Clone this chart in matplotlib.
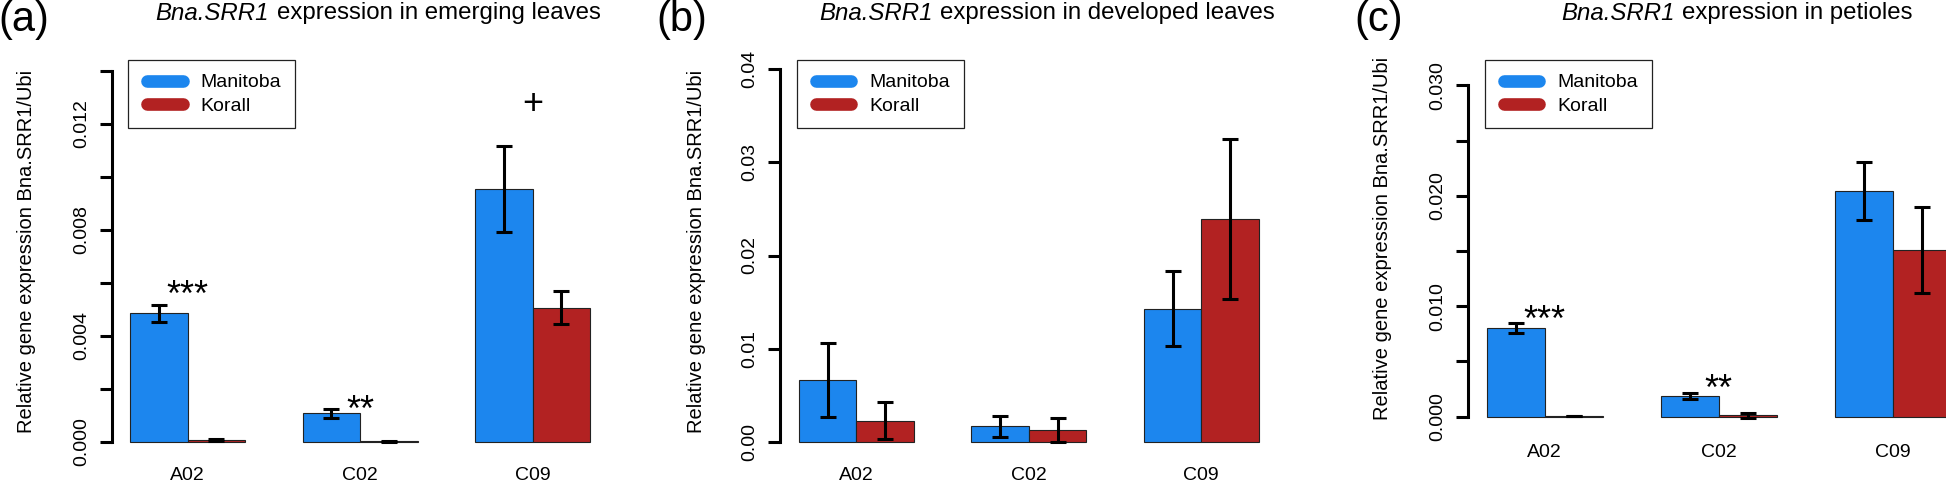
import matplotlib

matplotlib.use("Agg")
import matplotlib.pyplot as plt
from matplotlib.lines import Line2D
from matplotlib.legend_handler import HandlerLine2D
from matplotlib.ticker import FixedLocator, FuncFormatter

# relative expression Bna.SRR1/Ubi, mean and standard error per gene copy
genes = ["A02", "C02", "C09"]
cultivars = ["Manitoba", "Korall"]

emerging_manitoba = [0.00484, 0.00107, 0.00955]
emerging_manitoba_se = [0.00033, 0.00016, 0.00162]
emerging_korall = [0.00006, 0.00001, 0.00506]
emerging_korall_se = [0.000025, 0.000005, 0.00063]

developed_manitoba = [0.00663, 0.00165, 0.0143]
developed_manitoba_se = [0.0040, 0.00115, 0.0040]
developed_korall = [0.00226, 0.00125, 0.0239]
developed_korall_se = [0.0020, 0.0013, 0.0086]

petiole_manitoba = [0.00804, 0.00187, 0.02045]
petiole_manitoba_se = [0.00048, 0.0003, 0.0026]
petiole_korall = [0.00005, 0.00012, 0.01512]
petiole_korall_se = [0.00003, 0.0002, 0.0039]

# significance marks: label, gene index, height
emerging_sig = ["***", "**", "+"]
emerging_sig_gene = [0, 1, 2]
emerging_sig_y = [0.00548, 0.00114, 0.01274]
petiole_sig = ["***", "**"]
petiole_sig_gene = [0, 1]
petiole_sig_y = [0.0086, 0.00239]

gene_name = "Bna.SRR1"
titles = [
    "expression in emerging leaves",
    "expression in developed leaves",
    "expression in petioles",
]
ylabel = "Relative gene expression Bna.SRR1/Ubi"

W, H = 1946, 487
BLUE = "#1C86EE"
RED = "#B22222"

plt.rcParams["font.family"] = ["Liberation Sans", "DejaVu Sans"]

fig = plt.figure(figsize=(W / 100, H / 100), dpi=100)
fig.patch.set_facecolor("white")
renderer = fig.canvas.get_renderer()


def fx(px):
    return px / W


def fy(py):
    return 1 - py / H


def add_title(center_px, rest):
    # italic gene name followed by plain text, centred as one line
    t1 = fig.text(0, fy(19.5), gene_name, style="italic", fontsize=17.3,
                  ha="left", va="baseline")
    t2 = fig.text(0, fy(19.5), rest, fontsize=17.3, ha="left", va="baseline")
    w1 = t1.get_window_extent(renderer).width
    w2 = t2.get_window_extent(renderer).width
    gap = 8
    start = center_px - (w1 + gap + w2) / 2
    t1.set_x(fx(start))
    t2.set_x(fx(start + w1 + gap))


def panel(x1, bw, y0, ytop, ymax, step, label_step, fmt,
          manitoba, manitoba_se, korall, korall_se,
          title, title_x, letter, letter_x, ylab_x, ylab_y, xpad,
          sig=(), sig_gene=(), sig_y=()):
    h = y0 - ytop
    left, right = x1 - 0.32 * bw, x1 + 8.32 * bw
    bottom, top = y0 + 0.04 * h, ytop - 0.04 * h
    ax = fig.add_axes([fx(left), fy(bottom), (right - left) / W, (bottom - top) / H])
    ax.set_xlim(0.68, 9.32)
    ax.set_ylim(-0.04 * ymax, 1.04 * ymax)
    ax.patch.set_alpha(0)

    xm = [3 * i + 1.5 for i in range(len(genes))]
    xk = [3 * i + 2.5 for i in range(len(genes))]
    ax.bar(xm, manitoba, width=1, color=BLUE, edgecolor="#222222", linewidth=0.8)
    ax.bar(xk, korall, width=1, color=RED, edgecolor="#222222", linewidth=0.8)
    ax.errorbar(xm, manitoba, yerr=manitoba_se, fmt="none", ecolor="black",
                elinewidth=2.2, capsize=5.8, capthick=2.2)
    ax.errorbar(xk, korall, yerr=korall_se, fmt="none", ecolor="black",
                elinewidth=2.2, capsize=5.8, capthick=2.2)

    for s, g, y in zip(sig, sig_gene, sig_y):
        ax.text(3 * g + 2, y, s, ha="center", va="center", fontsize=26)

    for side in ["top", "right", "bottom"]:
        ax.spines[side].set_visible(False)
    ax.spines["left"].set_linewidth(2.2)
    ax.spines["left"].set_bounds(0, ymax)

    n = int(round(ymax / step))
    ticks = [i * step for i in range(n + 1)]
    ax.yaxis.set_major_locator(FixedLocator(ticks))
    every = int(round(label_step / step))
    ax.yaxis.set_major_formatter(FuncFormatter(
        lambda v, pos: (fmt % v) if pos is not None and pos % every == 0 else ""))
    ax.tick_params(axis="y", length=8.6, width=2.2, labelsize=14,
                   labelrotation=90, pad=7)
    for lab in ax.get_yticklabels():
        lab.set_va("center")

    ax.set_xticks([3 * i + 2 for i in range(len(genes))])
    ax.set_xticklabels(genes)
    ax.tick_params(axis="x", length=0, labelsize=14, pad=xpad)

    handles = [Line2D([], [], color=BLUE, lw=9.1, solid_capstyle="round"),
               Line2D([], [], color=RED, lw=9.1, solid_capstyle="round")]
    leg = ax.legend(handles, cultivars, loc="upper left",
                    bbox_to_anchor=(fx(x1 - 1.7), fy(60.0)), bbox_transform=fig.transFigure,
                    borderaxespad=0, frameon=True, fancybox=False, framealpha=1,
                    edgecolor="#222222", borderpad=0.71, handlelength=2.34,
                    handletextpad=0.68, labelspacing=0.29, fontsize=14,
                    handler_map={Line2D: HandlerLine2D(numpoints=2, marker_pad=0.25)})
    leg.get_frame().set_linewidth(0.9)

    add_title(title_x, title)
    fig.text(fx(letter_x), fy(31), letter, ha="left", va="baseline", fontsize=30)
    fig.text(fx(ylab_x), fy(ylab_y), ylabel, rotation=90, ha="center",
             va="center", fontsize=14.5)
    return ax


panel(130.0, 57.5, 441.7, 70.7, 0.014, 0.002, 0.004, "%.3f",
      emerging_manitoba, emerging_manitoba_se, emerging_korall, emerging_korall_se,
      titles[0], 378, "(a)", -2, 27, 251, 7.5,
      emerging_sig, emerging_sig_gene, emerging_sig_y)

panel(798.75, 57.5, 441.7, 69.3, 0.04, 0.01, 0.01, "%.2f",
      developed_manitoba, developed_manitoba_se, developed_korall, developed_korall_se,
      titles[1], 1047, "(b)", 656, 696, 251, 7.5)

panel(1486.7, 58.0, 416.7, 85.3, 0.030, 0.005, 0.010, "%.3f",
      petiole_manitoba, petiole_manitoba_se, petiole_korall, petiole_korall_se,
      titles[2], 1737, "(c)", 1354, 1383, 238, 10,
      petiole_sig, petiole_sig_gene, petiole_sig_y)

fig.savefig("out.png", dpi=100)
